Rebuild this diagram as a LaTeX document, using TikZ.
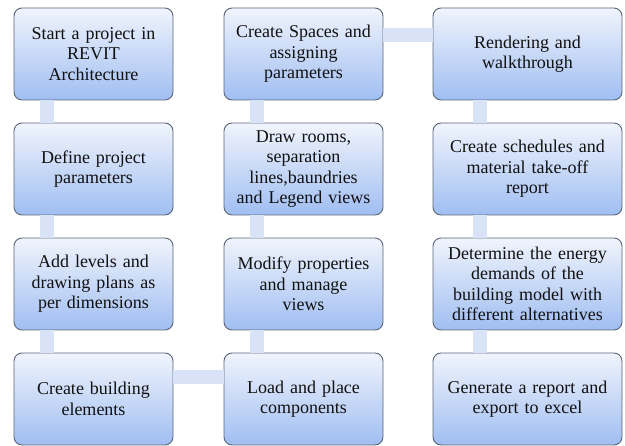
\documentclass[tikz,border=0pt]{standalone}
\usepackage{fontspec}
\setmainfont{Liberation Serif}
\usetikzlibrary{calc}
\definecolor{boxtop}{HTML}{F0F4FC}
\definecolor{boxbot}{HTML}{A0BEF2}
\definecolor{boxline}{HTML}{5A6478}
\definecolor{barcol}{HTML}{D8E3F7}
\definecolor{txt}{HTML}{111111}
\tikzset{
  stepbox/.style={draw=boxline, line width=0.9pt, rounded corners=8pt,
    top color=boxtop, bottom color=boxbot, minimum height=92pt,
    align=center, text=txt, inner sep=2pt,
    font=\fontsize{18}{20.5}\selectfont},
  narrowbox/.style={stepbox, minimum width=159pt, text width=155pt},
  widebox/.style={stepbox, minimum width=189pt, text width=185pt},
  bar/.style={draw=barcol, line width=14pt, line cap=butt}
}
\begin{document}
\begin{tikzpicture}[x=1pt,y=-1pt]
\useasboundingbox (0,0) rectangle (625,446);
% column 1
\node[narrowbox] (n1) at (93.5,54) {Start a project in\\REVIT\\Architecture};
\node[narrowbox] (n2) at (93.5,169) {Define project\\parameters};
\node[narrowbox] (n3) at (93.5,284) {Add levels and\\drawing plans as\\per dimensions};
\node[narrowbox] (n4) at (93.5,399) {Create building\\elements};
% column 2
\node[narrowbox] (n5) at (303.5,399) {Load and place\\components};
\node[narrowbox] (n6) at (303.5,284) {Modify properties\\and manage\\views};
\node[narrowbox] (n7) at (303.5,169) {Draw rooms,\\separation\\lines,baundries\\and Legend views};
\node[narrowbox] (n8) at (303.5,54) {Create Spaces and\\assigning\\parameters};
% column 3
\node[widebox] (n9) at (527.5,54) {Rendering and\\walkthrough};
\node[widebox] (n10) at (527.5,169) {Create schedules and\\material take-off\\report};
\node[widebox] (n11) at (527.5,284) {Determine the energy\\demands of the\\building model with\\different alternatives};
\node[widebox] (n12) at (527.5,399) {Generate a report and\\export to excel};
% connectors
\draw[bar] ($(n1.south west)+(33,0)$) -- ($(n2.north west)+(33,0)$);
\draw[bar] ($(n2.south west)+(33,0)$) -- ($(n3.north west)+(33,0)$);
\draw[bar] ($(n3.south west)+(33,0)$) -- ($(n4.north west)+(33,0)$);
\draw[bar] ($(n4.north east)+(0,24.5)$) -- ($(n5.north west)+(0,24.5)$);
\draw[bar] ($(n5.north west)+(33,0)$) -- ($(n6.south west)+(33,0)$);
\draw[bar] ($(n6.north west)+(33,0)$) -- ($(n7.south west)+(33,0)$);
\draw[bar] ($(n7.north west)+(33,0)$) -- ($(n8.south west)+(33,0)$);
\draw[bar] ($(n8.north east)+(0,27)$) -- ($(n9.north west)+(0,27)$);
\draw[bar] ($(n9.south west)+(47.5,0)$) -- ($(n10.north west)+(47.5,0)$);
\draw[bar] ($(n10.south west)+(47.5,0)$) -- ($(n11.north west)+(47.5,0)$);
\draw[bar] ($(n11.south west)+(47.5,0)$) -- ($(n12.north west)+(47.5,0)$);
\end{tikzpicture}
\end{document}
